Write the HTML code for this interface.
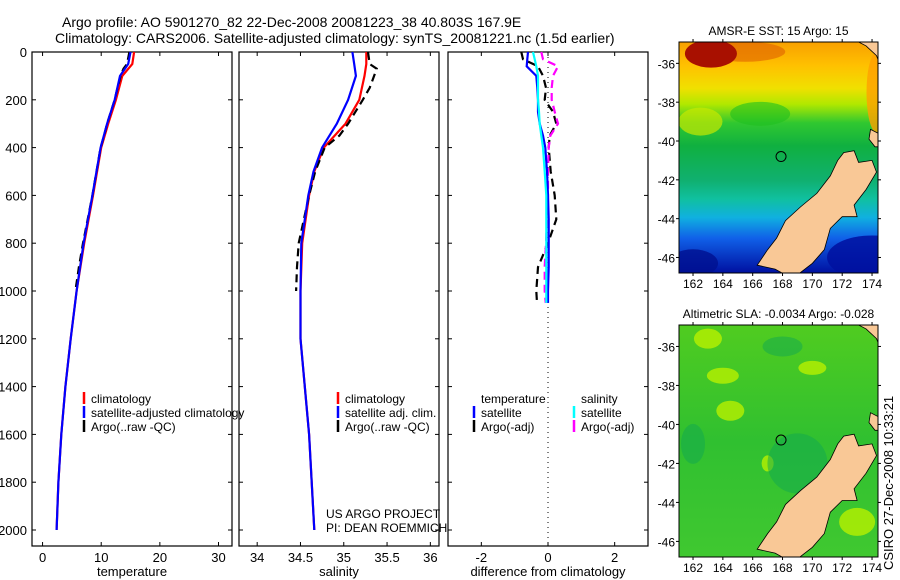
<!DOCTYPE html>
<html><head><meta charset="utf-8">
<style>
body{margin:0;background:#fff;}
svg{display:block;font-family:"Liberation Sans",sans-serif;}
text{fill:#000;}
</style></head>
<body>
<svg id="fig" width="900" height="580" viewBox="0 0 900 580" xmlns="http://www.w3.org/2000/svg">
<rect x="0" y="0" width="900" height="580" fill="#fff"/>
<text x="62" y="27" font-size="14">Argo profile: AO 5901270_82 22-Dec-2008 20081223_38 40.803S 167.9E</text>
<text x="55" y="43" font-size="14">Climatology: CARS2006. Satellite-adjusted climatology: synTS_20081221.nc (1.5d earlier)</text>
<g id="panels"></g>
<g id="maps"></g>
<text transform="translate(893,570) rotate(-90)" font-size="13">CSIRO 27-Dec-2008 10:33:21</text>
</svg>
<script>
// ---- profile data ----
const depths = [0,50,100,200,300,400,500,600,800,1000,1200,1400,1600,1800,2000];
const tempClim = [15.6,15.3,13.6,12.5,11.2,10.0,9.3,8.6,7.1,5.8,4.8,3.9,3.2,2.7,2.4];
const tempSat  = [15.0,14.6,13.2,12.3,11.0,9.9,9.2,8.5,7.0,5.8,4.8,3.9,3.2,2.7,2.4];
const argoDepths = [0,50,70,100,150,200,300,350,400,500,600,800,900,1000];
const tempArgo = [14.8,14.4,13.8,13.3,12.8,12.3,11.0,10.5,9.9,9.2,8.5,6.9,6.2,5.6];
const salClim = [35.26,35.26,35.24,35.18,35.02,34.77,34.66,34.60,34.52,34.50,34.50,34.55,34.60,34.63,34.66];
const salSat  = [35.10,35.12,35.14,35.05,34.92,34.75,34.65,34.59,34.51,34.50,34.50,34.55,34.60,34.63,34.66];
const salArgo = [35.28,35.30,35.38,35.35,35.30,35.22,35.05,34.95,34.78,34.67,34.60,34.48,34.46,34.45];
const diffDepths = [0,30,60,100,150,200,250,300,350,400,500,600,700,800,900,1000,1050];
const dTempSat  = [-0.6,-0.62,-0.64,-0.35,-0.32,-0.3,-0.3,-0.25,-0.15,-0.08,-0.03,0.0,0.02,0.02,0.02,0.0,0.0];
const dTempArgo = [-0.8,-0.75,-0.3,-0.15,-0.06,-0.1,0.15,0.25,0.05,0.02,0.08,0.2,0.25,0.0,-0.3,-0.35,-0.33];
const dSalSat   = [-0.45,-0.4,-0.35,-0.3,-0.3,-0.3,-0.27,-0.25,-0.2,-0.15,-0.1,-0.05,-0.05,-0.05,-0.05,-0.05,-0.05];
const dSalArgo  = [-0.2,-0.15,0.3,0.15,0.11,0.11,0.2,0.3,0.07,0.02,0.0,0.0,-0.03,-0.06,-0.1,-0.1,-0.07];
const depthTicks = [0,200,400,600,800,1000,1200,1400,1600,1800,2000];
const tempTicks = [0,10,20,30];
const salTicks = [34,34.5,35,35.5,36];
const diffTicks = [-2,0,2];
// ---- map data ----
const lonTicks = [162,164,166,168,170,172,174];
const latTicks = [-36,-38,-40,-42,-44,-46];
const floatLon = 167.9, floatLat = -40.8;
const southIsland = [[166.3,-46.4],[167.0,-45.6],[167.6,-45.0],[168.2,-44.1],[169.2,-43.4],[170.3,-42.7],[171.2,-41.8],[171.7,-41.0],[172.1,-40.6],[172.8,-40.5],[173.1,-41.1],[174.0,-41.0],[174.3,-41.6],[173.6,-42.5],[172.8,-43.3],[173.0,-43.9],[172.0,-43.9],[171.2,-44.5],[170.8,-45.6],[170.0,-46.3],[169.0,-46.9],[168.2,-46.9],[167.5,-46.6],[166.3,-46.4]];
const northIslandA = [[173.1,-34.9],[173.6,-35.1],[174.3,-35.6],[174.6,-36.2],[174.8,-36.8],[174.9,-34.9]];
const northIslandB = [[174.9,-39.2],[174.4,-39.6],[173.9,-39.4],[173.8,-39.9],[174.2,-40.3],[174.9,-40.3]];

const NS="http://www.w3.org/2000/svg";
function mk(tag,attrs,parent){const e=document.createElementNS(NS,tag);for(const k in attrs)e.setAttribute(k,attrs[k]);parent.appendChild(e);return e;}
const panelsG=document.getElementById('panels');
const top0=52, bot0=546;
const yD=d=>top0+d*0.239;

function panel(name,left,right,xMin,xMax,ticks,label,showDepth){
  const g=mk('g',{},panelsG);
  
  
  const sx=v=>left+(v-xMin)/(xMax-xMin)*(right-left);
  const fr=mk('rect',{x:left,y:top0,width:right-left,height:bot0-top0,fill:'none',stroke:'#000','stroke-width':1.2},g);
  
  
  depthTicks.forEach(d=>{
    const y=yD(d);
    mk('line',{x1:left,x2:left+4,y1:y,y2:y,stroke:'#000'},g);
    mk('line',{x1:right-4,x2:right,y1:y,y2:y,stroke:'#000'},g);
    if(showDepth){const t=mk('text',{x:left-5,y:y+5,'font-size':13,'text-anchor':'end'},g);t.textContent=d;
      
      }
  });
  ticks.forEach(v=>{
    const x=sx(v);
    mk('line',{x1:x,x2:x,y1:bot0,y2:bot0-4,stroke:'#000'},g);
    mk('line',{x1:x,x2:x,y1:top0,y2:top0+4,stroke:'#000'},g);
    const t=mk('text',{x:x,y:bot0+16,'font-size':13,'text-anchor':'middle'},g);t.textContent=v;
    
    
  });
  const xl=mk('text',{x:(left+right)/2,y:576,'font-size':13,'text-anchor':'middle'},g);xl.textContent=label;
  
  
  return {g,sx};
}
function line(p,xs,ds,color,dash,name,w){
  const pts=xs.map((v,i)=>p.sx(v).toFixed(1)+','+yD(ds[i]).toFixed(1)).join(' ');
  const l=mk('polyline',{points:pts,fill:'none',stroke:color,'stroke-width':w||2.2},p.g);
  if(dash)l.setAttribute('stroke-dasharray',dash);
  
  
}
function legend(p,x,y,items){
  items.forEach((it,i)=>{
    if(it[0])mk('line',{x1:x,x2:x,y1:y+i*14-11,y2:y+i*14+1,stroke:it[0],'stroke-width':2.5},p.g);
    const t=mk('text',{x:x+7,y:y+i*14,'font-size':12},p.g);t.textContent=it[1];
    
    
  });
}
const p1=panel('temperature-panel',32,232,-1.8,32.3,tempTicks,'temperature',true);
line(p1,tempClim,depths,'#f00',null,'temp-climatology-line');
line(p1,tempArgo,argoDepths,'#000','8,5','temp-argo-line');
line(p1,tempSat,depths,'#00f',null,'temp-satellite-line');
legend(p1,84,403,[['#f00','climatology'],['#00f','satellite-adjusted climatology'],['#000','Argo(..raw -QC)']]);
const p2=panel('salinity-panel',239,439,33.79,36.1,salTicks,'salinity',false);
line(p2,salClim,depths,'#f00',null,'sal-climatology-line');
line(p2,salArgo,argoDepths,'#000','8,5','sal-argo-line');
line(p2,salSat,depths,'#00f',null,'sal-satellite-line');
legend(p2,338,403,[['#f00','climatology'],['#00f','satellite adj. clim.'],['#000','Argo(..raw -QC)']]);
let t=mk('text',{x:326,y:518,'font-size':12},p2.g);t.textContent='US ARGO PROJECT';


t=mk('text',{x:326,y:532,'font-size':12},p2.g);t.textContent='PI: DEAN ROEMMICH';


const p3=panel('difference-panel',448,648,-3.0,3.0,diffTicks,'difference from climatology',false);
mk('line',{x1:p3.sx(0),x2:p3.sx(0),y1:top0,y2:bot0,stroke:'#000','stroke-dasharray':'1,4'},p3.g);
line(p3,dTempArgo,diffDepths,'#000','8,5','diff-temp-argo-line');
line(p3,dSalArgo,diffDepths,'#f0f','8,5','diff-sal-argo-line');
line(p3,dTempSat,diffDepths,'#00f',null,'diff-temp-satellite-line');
line(p3,dSalSat,diffDepths,'#0ff',null,'diff-sal-satellite-line');
legend(p3,474,403,[[null,'temperature'],['#00f','satellite'],['#000','Argo(-adj)']]);
legend(p3,574,403,[[null,'salinity'],['#0ff','satellite'],['#f0f','Argo(-adj)']]);

// ---- maps ----
const mapsG=document.getElementById('maps');
const defs=mk('defs',{},mapsG);
let lg=mk('linearGradient',{id:'sstg',x1:0,y1:0,x2:0,y2:1},defs);
[[0,'#f8a000'],[0.1,'#ffc000'],[0.2,'#f0e000'],[0.27,'#b0e800'],[0.35,'#30c830'],[0.45,'#10b040'],[0.6,'#10b070'],[0.68,'#10c0a0'],[0.76,'#10b0e0'],[0.85,'#1060e8'],[1,'#0010a0']].forEach(s=>mk('stop',{offset:s[0],'stop-color':s[1]},lg));
lg=mk('linearGradient',{id:'slag',x1:0,y1:0,x2:0,y2:1},defs);
[[0,'#50cc20'],[0.5,'#30c030'],[1,'#40c830']].forEach(s=>mk('stop',{offset:s[0],'stop-color':s[1]},lg));
function map(name,top,bot,title,fill,extras){
  const L=679,R=878,lon0=161.06,lon1=174.4,lat0=-34.9,lat1=-46.8;
  const g=mk('g',{},mapsG);
  
  
  const mx=v=>L+(v-lon0)/(lon1-lon0)*(R-L);
  const my=v=>top+(v-lat0)/(lat1-lat0)*(bot-top);
  const cp=mk('clipPath',{id:name+'-clip'},defs);
  mk('rect',{x:L,y:top,width:R-L,height:bot-top},cp);
  const inner=mk('g',{'clip-path':'url(#'+name+'-clip)'},g);
  mk('rect',{x:L,y:top,width:R-L,height:bot-top,fill:fill},inner);
  extras(inner,mx,my);
  [southIsland,northIslandA,northIslandB].forEach(poly=>{
    const pts=poly.map(p=>mx(p[0]).toFixed(1)+','+my(p[1]).toFixed(1)).join(' ');
    const pg=mk('polygon',{points:pts,fill:'#f9c896',stroke:'#000','stroke-width':0.8},inner);
    
    
  });
  const c=mk('circle',{cx:mx(floatLon),cy:my(floatLat),r:5,fill:'none',stroke:'#000'},g);
  
  
  mk('rect',{x:L,y:top,width:R-L,height:bot-top,fill:'none',stroke:'#000'},g);
  lonTicks.forEach(v=>{const x=mx(v);mk('line',{x1:x,x2:x,y1:bot,y2:bot+3,stroke:'#000'},g);mk('line',{x1:x,x2:x,y1:top,y2:top-3,stroke:'#000'},g);
    const tt=mk('text',{x:x,y:bot+15,'font-size':12,'text-anchor':'middle'},g);tt.textContent=v;
    
    });
  latTicks.forEach(v=>{const y=my(v);mk('line',{x1:L-3,x2:L,y1:y,y2:y,stroke:'#000'},g);mk('line',{x1:R,x2:R+3,y1:y,y2:y,stroke:'#000'},g);
    const tt=mk('text',{x:L-4,y:y+5,'font-size':12,'text-anchor':'end'},g);tt.textContent=v;
    
    });
  const ti=mk('text',{x:(L+R)/2,y:top-7,'font-size':12,'text-anchor':'middle'},g);ti.textContent=title;
  
  
}
map('sst-map',42,273,'AMSR-E SST: 15 Argo: 15','url(#sstg)',(g,mx,my)=>{
  mk('ellipse',{cx:mx(165.5),cy:my(-35.4),rx:40,ry:10,fill:'#e06000',opacity:0.6},g);
  mk('ellipse',{cx:mx(163.2),cy:my(-35.5),rx:26,ry:14,fill:'#a81000'},g);
  mk('ellipse',{cx:mx(174.3),cy:my(-37.5),rx:10,ry:40,fill:'#ffa000',opacity:0.8},g);
  mk('ellipse',{cx:mx(162.5),cy:my(-39),rx:22,ry:14,fill:'#c8e800',opacity:0.7},g);
  mk('ellipse',{cx:mx(166.5),cy:my(-38.6),rx:30,ry:12,fill:'#20c020',opacity:0.6},g);
  mk('ellipse',{cx:mx(174),cy:my(-46),rx:45,ry:22,fill:'#0010a0',opacity:0.85},g);
  mk('ellipse',{cx:mx(162),cy:my(-46.3),rx:25,ry:14,fill:'#001090',opacity:0.8},g);
});
map('sla-map',325,557,'Altimetric SLA: -0.0034 Argo: -0.028','url(#slag)',(g,mx,my)=>{
  [[163,-35.6,14,10],[164.5,-39.3,14,10],[164,-37.5,16,8],[170,-37.1,14,7],[167,-42,6,8],[173,-45,18,14]].forEach(b=>
    mk('ellipse',{cx:mx(b[0]),cy:my(b[1]),rx:b[2],ry:b[3],fill:'#b8f000',opacity:0.8},g));
  [[168,-36,20,10],[169,-42,30,30],[162,-41,12,20]].forEach(b=>
    mk('ellipse',{cx:mx(b[0]),cy:my(b[1]),rx:b[2],ry:b[3],fill:'#10a850',opacity:0.5},g));
});
</script>
</body></html>
